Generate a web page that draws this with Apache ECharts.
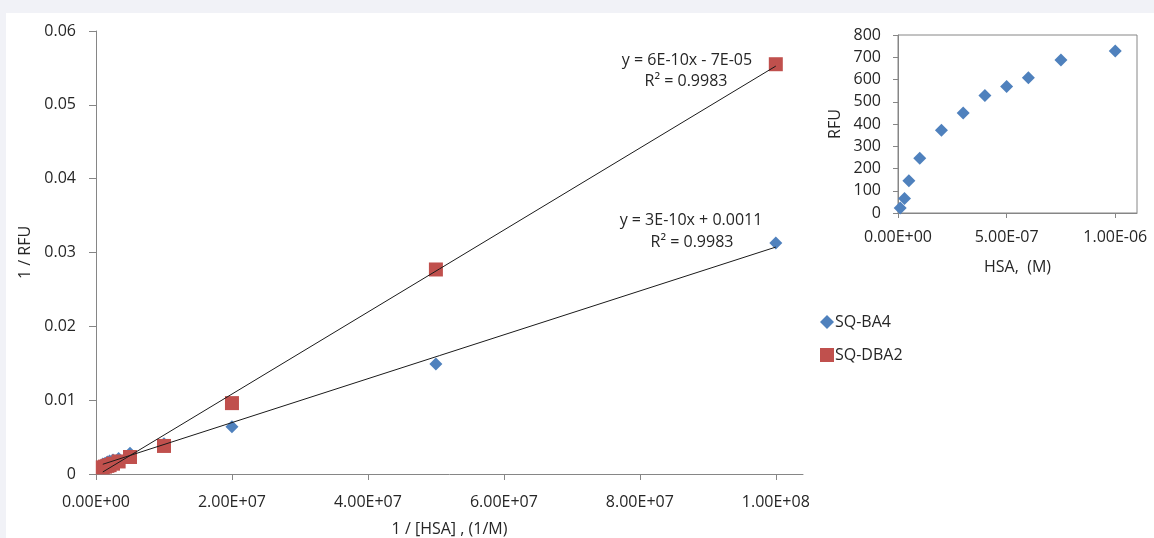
<!DOCTYPE html>
<html>
<head>
<meta charset="utf-8">
<script src="https://cdn.jsdelivr.net/npm/echarts@6/dist/echarts.min.js"></script>
<style>
html,body{margin:0;padding:0;background:#f1f2f7;width:1154px;height:538px;overflow:hidden;}
#c{position:absolute;left:6px;top:13px;width:1148px;height:525px;background:#ffffff;}
</style>
</head>
<body>
<div id="c"></div>
<script>
// ---- data ----
var invHSA = [1e6, 1.33e6, 1.67e6, 2e6, 2.5e6, 3.33e6, 5e6, 1e7, 2e7, 5e7, 1e8];
var ba4InvRFU = [0.00137, 0.00146, 0.00164, 0.00176, 0.0019, 0.0021, 0.0028, 0.0041, 0.0064, 0.0149, 0.0313];
var dba2InvRFU = [0.0009, 0.0010, 0.0011, 0.0012, 0.0014, 0.0017, 0.0023, 0.0038, 0.0096, 0.0277, 0.0555];
var hsaConc = [1e-8, 3e-8, 5e-8, 1e-7, 2e-7, 3e-7, 4e-7, 5e-7, 6e-7, 7.5e-7, 1e-6];
var rfu = [22, 65, 145, 246, 372, 450, 528, 568, 608, 688, 728];
var seriesNames = ['SQ-BA4', 'SQ-DBA2'];
var mainXTicks = [0, 2e7, 4e7, 6e7, 8e7, 1e8];
var insetXTicks = [0, 5e-7, 1e-6];
var eqBA4 = ['y = 3E-10x + 0.0011', 'R\u00b2 = 0.9983'];
var eqDBA2 = ['y = 6E-10x - 7E-05', 'R\u00b2 = 0.9983'];

function zip(a, b) { return a.map(function (v, i) { return [v, b[i]]; }); }
function fit(xs, ys) {
  var n = xs.length, sx = 0, sy = 0, sxx = 0, sxy = 0;
  for (var i = 0; i < n; i++) { sx += xs[i]; sy += ys[i]; sxx += xs[i] * xs[i]; sxy += xs[i] * ys[i]; }
  var m = (n * sxy - sx * sy) / (n * sxx - sx * sx);
  var b = (sy - m * sx) / n;
  var x0 = Math.min.apply(null, xs), x1 = Math.max.apply(null, xs);
  return [[x0, m * x0 + b], [x1, m * x1 + b]];
}
function sci(v) {
  if (v === 0) return '0.00E+00';
  var e = Math.floor(Math.log10(Math.abs(v)) + 1e-9);
  var m = v / Math.pow(10, e);
  var s = e < 0 ? '-' : '+';
  var ae = Math.abs(e);
  return m.toFixed(2) + 'E' + s + (ae < 10 ? '0' + ae : '' + ae);
}

var FONT = '"Open Sans", Lato, sans-serif';
var FS = 16;
var TXT = '#262626';
var AX = '#868686';
var BLUE = '#4f81bd';
var RED = '#c0504d';

function eq(text, x, y) {
  return {type: 'text', x: x, y: y, style: {text: text, fontSize: FS, fill: TXT, fontFamily: FONT, align: 'center', verticalAlign: 'middle'}};
}

var chart = echarts.init(document.getElementById('c'), null, {renderer: 'canvas'});
chart.setOption({
  animation: false,
  textStyle: {fontFamily: FONT},
  grid: [
    {left: 90, top: 18, width: 707, height: 443, outerBoundsMode: 'none', containLabel: false},
    {left: 892, top: 22, width: 239, height: 178, outerBoundsMode: 'none', containLabel: false,
     show: true, borderColor: AX, borderWidth: 1, backgroundColor: 'transparent'}
  ],
  legend: {
    data: seriesNames,
    orient: 'vertical',
    left: 809,
    top: 296,
    itemGap: 17,
    itemWidth: 14,
    itemHeight: 14,
    textStyle: {fontFamily: FONT, fontSize: FS, color: TXT, padding: [0, 0, 0, -4]}
  },
  xAxis: [
    {
      gridIndex: 0, type: 'value', min: 0, max: 1.04e8,
      name: '1 / [HSA] , (1/M)', nameLocation: 'middle', nameGap: 47,
      nameTextStyle: {fontSize: FS, color: TXT, fontFamily: FONT},
      axisLine: {show: true, lineStyle: {color: AX}},
      axisTick: {show: true, inside: false, length: 6, lineStyle: {color: AX}, customValues: mainXTicks},
      axisLabel: {customValues: mainXTicks, formatter: sci, fontSize: FS, color: TXT, margin: 20, fontFamily: FONT},
      splitLine: {show: false}
    },
    {
      gridIndex: 1, type: 'value', min: 0, max: 1.1e-6,
      name: 'HSA,  (M)', nameLocation: 'middle', nameGap: 46,
      nameTextStyle: {fontSize: FS, color: TXT, fontFamily: FONT},
      axisLine: {show: true, lineStyle: {color: AX}},
      axisTick: {show: true, length: 5, lineStyle: {color: AX}, customValues: insetXTicks},
      axisLabel: {customValues: insetXTicks, formatter: sci, fontSize: FS, color: TXT, margin: 16, fontFamily: FONT},
      splitLine: {show: false}
    }
  ],
  yAxis: [
    {
      gridIndex: 0, type: 'value', min: 0, max: 0.06, interval: 0.01,
      name: '1 / RFU', nameLocation: 'middle', nameGap: 62, nameRotate: 90,
      nameTextStyle: {fontSize: FS, color: TXT, fontFamily: FONT},
      axisLine: {show: true, lineStyle: {color: AX}},
      axisTick: {show: true, length: 7, lineStyle: {color: AX}},
      axisLabel: {formatter: function (v) { return v === 0 ? '0' : v.toFixed(2); }, fontSize: FS, color: TXT, margin: 20, fontFamily: FONT},
      splitLine: {show: false}
    },
    {
      gridIndex: 1, type: 'value', min: 0, max: 800, interval: 100,
      name: 'RFU', nameLocation: 'middle', nameGap: 55, nameRotate: 90,
      nameTextStyle: {fontSize: FS, color: TXT, fontFamily: FONT},
      axisLine: {show: true, lineStyle: {color: AX}},
      axisTick: {show: true, length: 5, lineStyle: {color: AX}},
      axisLabel: {fontSize: FS, color: TXT, margin: 17, fontFamily: FONT},
      splitLine: {show: false}
    }
  ],
  series: [
    {
      name: 'trend-BA4', type: 'line', xAxisIndex: 0, yAxisIndex: 0,
      data: fit(invHSA, ba4InvRFU), symbol: 'none', silent: true, z: 5,
      lineStyle: {color: '#1a1a1a', width: 1}
    },
    {
      name: 'trend-DBA2', type: 'line', xAxisIndex: 0, yAxisIndex: 0,
      data: fit(invHSA, dba2InvRFU), symbol: 'none', silent: true, z: 5,
      lineStyle: {color: '#1a1a1a', width: 1}
    },
    {
      name: seriesNames[0], type: 'scatter', xAxisIndex: 0, yAxisIndex: 0,
      data: zip(invHSA, ba4InvRFU), symbol: 'diamond', symbolSize: 13, z: 3,
      itemStyle: {color: BLUE, opacity: 1}
    },
    {
      name: seriesNames[1], type: 'scatter', xAxisIndex: 0, yAxisIndex: 0,
      data: zip(invHSA, dba2InvRFU), symbol: 'rect', symbolSize: 14, z: 4,
      itemStyle: {color: RED, opacity: 1}
    },
    {
      name: 'inset', type: 'scatter', xAxisIndex: 1, yAxisIndex: 1,
      data: zip(hsaConc, rfu), symbol: 'diamond', symbolSize: 13,
      itemStyle: {color: BLUE, opacity: 1}
    }
  ],
  graphic: [
    eq(eqDBA2[0], 681, 47),
    eq(eqDBA2[1], 680, 68),
    eq(eqBA4[0], 685, 207),
    eq(eqBA4[1], 686, 229)
  ]
});
</script>
</body>
</html>
